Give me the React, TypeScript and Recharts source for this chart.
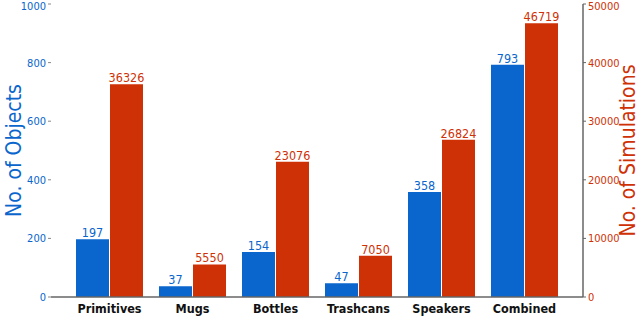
import { BarChart, Bar, XAxis, YAxis, LabelList, Label } from 'recharts';

const categories = ['Primitives', 'Mugs', 'Bottles', 'Trashcans', 'Speakers', 'Combined'];
const objects = [197, 37, 154, 47, 358, 793];
const simulations = [36326, 5550, 23076, 7050, 26824, 46719];
const leftTicks = [0, 200, 400, 600, 800, 1000];
const rightTicks = [0, 10000, 20000, 30000, 40000, 50000];

const BLUE = '#0a66cc';
const RED = '#cf3106';
const FONT = '"DejaVu Sans Condensed", "DejaVu Sans", sans-serif';

const data = categories.map((name, i) => ({
  name,
  objects: objects[i],
  simulations: simulations[i],
}));

export default function App() {
  return (
    <div style={{ position: 'absolute', left: 0, top: 0, background: '#fff' }}>
      <BarChart
        width={640}
        height={316}
        data={data}
        margin={{ top: 4, right: 0, bottom: 0, left: 0 }}
        barCategoryGap={8}
        barGap={1}
        style={{ fontFamily: FONT }}
      >
        <XAxis
          dataKey="name"
          height={19}
          padding={{ left: 17, right: 17 }}
          axisLine={{ stroke: '#666', strokeWidth: 1.5 }}
          tickLine={false}
          tick={{ fontSize: 12.5, fill: '#111', fontWeight: 600 }}
          tickMargin={1}
          interval={0}
        />
        <YAxis
          yAxisId="left"
          orientation="left"
          width={51}
          domain={[0, 1000]}
          ticks={leftTicks}
          axisLine={false}
          tickLine={{ stroke: '#888' }}
          tickSize={3}
          tickMargin={2}
          tick={{ fontSize: 11, fill: BLUE }}
        >
          <Label
            value="No. of Objects"
            angle={-90}
            position="insideLeft"
            offset={14}
            style={{ textAnchor: 'middle', fontSize: 21, fill: BLUE }}
          />
        </YAxis>
        <YAxis
          yAxisId="right"
          orientation="right"
          width={57}
          domain={[0, 50000]}
          ticks={rightTicks}
          axisLine={{ stroke: '#666', strokeWidth: 1.5 }}
          tickLine={{ stroke: '#666' }}
          tickSize={3}
          tickMargin={2}
          tick={{ fontSize: 11, fill: RED }}
        >
          <Label
            value="No. of Simulations"
            angle={-90}
            position="insideRight"
            offset={12}
            style={{ textAnchor: 'middle', fontSize: 21, fill: RED }}
          />
        </YAxis>
        <Bar yAxisId="left" dataKey="objects" fill={BLUE} barSize={33} isAnimationActive={false}>
          <LabelList dataKey="objects" position="top" offset={2} style={{ fill: BLUE, fontSize: 12.5 }} />
        </Bar>
        <Bar yAxisId="right" dataKey="simulations" fill={RED} barSize={33} isAnimationActive={false}>
          <LabelList dataKey="simulations" position="top" offset={2} style={{ fill: RED, fontSize: 12.5 }} />
        </Bar>
      </BarChart>
    </div>
  );
}
